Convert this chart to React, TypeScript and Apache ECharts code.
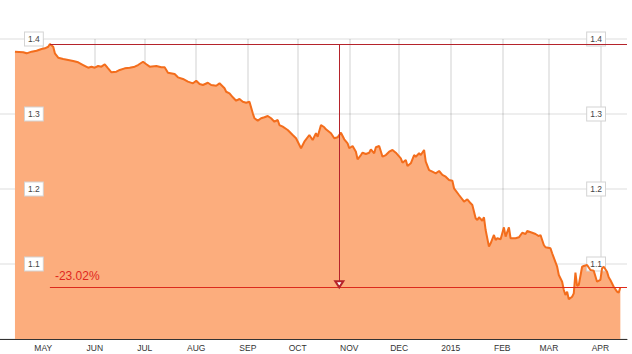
import React, { useEffect, useRef } from "react";
import * as echarts from "echarts";

// days counted from 2014-05-01 (UTC)
const days = [
  -17, -12, -10, -7, -4, -1, 1, 3, 4, 6,
  7, 9, 12, 15, 18, 21, 24, 27, 29, 31,
  33, 35, 37, 39, 41, 44, 46, 49, 52, 55,
  57, 60, 62, 64, 68, 71, 73, 75, 79, 81,
  84, 87, 90, 92, 94, 96, 99, 101, 104, 106,
  109, 110, 112, 114, 116, 118, 120, 122, 124, 126,
  127, 129, 131, 133, 135, 137, 139, 141, 142, 144,
  147, 150, 152, 155, 157, 160, 162, 164, 165, 167,
  169, 170, 173, 175, 177, 179, 181, 183, 184, 186,
  188, 189, 191, 192, 194, 196, 197, 199, 200, 202,
  204, 206, 208, 210, 212, 215, 216, 218, 219, 221,
  223, 224, 226, 227, 229, 230, 232, 234, 236, 238,
  240, 242, 244, 246, 247, 250, 252, 253, 255, 257,
  258, 260, 261, 262, 264, 265, 266, 268, 269, 271,
  272, 273, 275, 277, 278, 280, 281, 284, 286, 288,
  290, 291, 294, 296, 298, 299, 301, 302, 305, 306,
  309, 310, 312, 313, 314, 315, 316, 318, 319, 320,
  321, 322, 324, 325, 327, 329, 331, 333, 335, 336,
  337, 339, 340, 341, 343, 345, 346, 347,
];

const rates = [
  1.3831, 1.3823, 1.3809, 1.3831, 1.3844, 1.3867, 1.3876, 1.3897, 1.3933, 1.3897,
  1.3809, 1.3751, 1.3733, 1.372, 1.3707, 1.3689, 1.3653, 1.3617, 1.3631, 1.3617,
  1.364, 1.3631, 1.3663, 1.3609, 1.3556, 1.3564, 1.3587, 1.3609, 1.3617, 1.3631,
  1.3653, 1.3697, 1.3663, 1.3631, 1.364, 1.3623, 1.3623, 1.3551, 1.3533, 1.3489,
  1.3467, 1.3431, 1.3409, 1.3444, 1.34, 1.3387, 1.3417, 1.3387, 1.3377, 1.3409,
  1.3343, 1.3297, 1.3276, 1.3223, 1.3177, 1.32, 1.3164, 1.3151, 1.3164, 1.3009,
  1.2943, 1.2911, 1.2943, 1.2956, 1.2973, 1.2943, 1.2897, 1.292, 1.2853, 1.2831,
  1.2787, 1.272, 1.2676, 1.2543, 1.2631, 1.272, 1.2653, 1.2743, 1.2697, 1.2853,
  1.2823, 1.2796, 1.2743, 1.2676, 1.2689, 1.2751, 1.2663, 1.2609, 1.2543, 1.2573,
  1.2497, 1.2396, 1.2453, 1.2484, 1.2467, 1.2484, 1.2529, 1.2476, 1.2556, 1.2573,
  1.2431, 1.2453, 1.2497, 1.252, 1.2484, 1.2409, 1.2351, 1.2387, 1.2307, 1.2343,
  1.2453, 1.2431, 1.2476, 1.2453, 1.252, 1.2364, 1.2253, 1.2231, 1.2209, 1.224,
  1.2187, 1.2164, 1.212, 1.2111, 1.2009, 1.192, 1.1863, 1.1831, 1.1863, 1.1809,
  1.1787, 1.1609, 1.1587, 1.1623, 1.1577, 1.1623, 1.1453, 1.1231, 1.1276, 1.1387,
  1.132, 1.1343, 1.1329, 1.1489, 1.1364, 1.1489, 1.1343, 1.1343, 1.1356, 1.1417,
  1.14, 1.144, 1.1417, 1.14, 1.1373, 1.1387, 1.1253, 1.1223, 1.1209, 1.1143,
  1.0964, 1.0853, 1.0764, 1.0653, 1.0587, 1.0631, 1.0529, 1.0564, 1.0609, 1.0884,
  1.0707, 1.072, 1.0964, 1.0973, 1.0987, 1.092, 1.0911, 1.0764, 1.0787, 1.0943,
  1.0964, 1.0897, 1.0823, 1.0787, 1.0697, 1.0631, 1.0617, 1.0689,
];

const monthLabels = ["2015", "FEB", "MAR", "APR", "MAY", "JUN", "JUL", "AUG", "SEP", "OCT", "NOV", "DEC"];
const changeLabel = "-23.02%";
const yMin = 1.0;
const yMax = 1.4;
const yStep = 0.1;
const xStartDay = -26;
const xEndDay = 351;
const arrowDay = 178;

const BASE = Date.UTC(2014, 4, 1);
const DAY = 86400000;

export default function App() {
  const ref = useRef<HTMLDivElement>(null);

  useEffect(() => {
    const chart = echarts.init(ref.current!, null, { renderer: "svg" });
    const data = days.map((d, i) => [BASE + d * DAY, rates[i]]);
    let peakIdx = 0;
    rates.forEach((r, i) => {
      if (r > rates[peakIdx]) peakIdx = i;
    });
    const peakT = BASE + days[peakIdx] * DAY;
    const peakV = rates[peakIdx];
    const lastV = rates[rates.length - 1];
    const endT = BASE + xEndDay * DAY;
    const arrowT = BASE + arrowDay * DAY;

    const darkRed = { color: "#b5232b", type: "solid", width: 1 };
    const brightRed = { color: "#dc2a1c", type: "solid", width: 1 };

    const yLabel = (margin: number) => ({
      inside: true,
      margin,
      showMinLabel: false,
      fontSize: 8.5,
      fontFamily: "Liberation Sans, Arial, sans-serif",
      color: "#444",
      backgroundColor: "#fff",
      borderColor: "#d4d4d4",
      borderWidth: 1,
      padding: [2, 3, 2, 3],
      formatter: (v: number) => v.toFixed(1),
    });

    chart.setOption({
      animation: false,
      backgroundColor: "#fff",
      grid: { left: 0, right: 5, top: 39, bottom: 15 },
      xAxis: {
        type: "time",
        min: BASE + xStartDay * DAY,
        max: endT,
        minInterval: 28 * DAY,
        maxInterval: 31 * DAY,
        z: 3,
        axisLine: { lineStyle: { color: "#333", width: 1 } },
        axisTick: { show: false },
        axisLabel: {
          margin: 4,
          fontSize: 8.5,
          fontFamily: "Liberation Sans, Arial, sans-serif",
          color: "#333",
          showMinLabel: false,
          showMaxLabel: false,
          formatter: (v: number) => {
            const dt = new Date(v);
            return monthLabels[dt.getUTCMonth()];
          },
        },
        splitLine: {
          show: true,
          showMinLine: false,
          showMaxLine: false,
          lineStyle: { color: "rgba(0,0,0,0.09)", width: 2 },
        },
      },
      yAxis: [
        {
          type: "value",
          position: "left",
          min: yMin,
          max: yMax,
          interval: yStep,
          z: 3,
          axisLine: { show: false },
          axisTick: { show: false },
          axisLabel: yLabel(25),
          splitLine: { show: true, lineStyle: { color: "rgba(0,0,0,0.09)", width: 1.5 } },
        },
        {
          type: "value",
          position: "right",
          min: yMin,
          max: yMax,
          interval: yStep,
          z: 3,
          axisLine: { show: false },
          axisTick: { show: false },
          axisLabel: yLabel(22),
          splitLine: { show: false },
        },
      ],
      series: [
        {
          type: "line",
          data,
          showSymbol: false,
          symbol: "none",
          lineStyle: { color: "#f36d1c", width: 2 },
          areaStyle: { color: "#fcad7d", origin: "start", opacity: 1 },
          markLine: {
            silent: true,
            animation: false,
            symbol: ["none", "none"],
            label: { show: false },
            lineStyle: { type: "solid", width: 1 },
            data: [
              [
                { coord: [peakT, peakV], lineStyle: darkRed },
                { coord: [endT, peakV], lineStyle: darkRed },
              ],
              [
                {
                  coord: [peakT, lastV],
                  lineStyle: brightRed,
                  label: {
                    show: true,
                    formatter: changeLabel,
                    position: "insideStartTop",
                    distance: 5,
                    color: "#e0281e",
                    fontSize: 12,
                    fontFamily: "Liberation Sans, Arial, sans-serif",
                  },
                },
                { coord: [endT, lastV], lineStyle: brightRed },
              ],
              [
                { coord: [arrowT, peakV], symbol: "none", lineStyle: darkRed },
                {
                  coord: [arrowT, lastV],
                  symbol: "emptyTriangle",
                  symbolSize: [8, 6],
                  symbolOffset: [0, 3],
                  lineStyle: darkRed,
                },
              ],
            ],
          },
        },
      ],
    });
    return () => chart.dispose();
  }, []);

  return (
    <div
      ref={ref}
      style={{ position: "absolute", left: 0, top: 0, width: 632, height: 354, background: "#fff" }}
    />
  );
}
